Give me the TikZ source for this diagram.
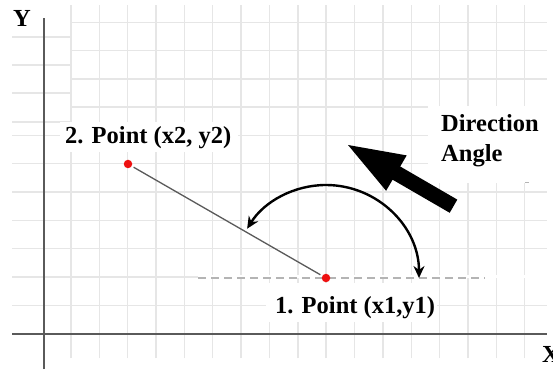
\documentclass[tikz,border=0pt]{standalone}
\usepackage{fontspec}
\setmainfont{Liberation Serif}
\usetikzlibrary{arrows.meta}
\definecolor{gridgray}{HTML}{E6E6E6}
\definecolor{axisgray}{HTML}{5A5A5A}
\definecolor{dashgray}{HTML}{B4B4B4}
\definecolor{ptred}{HTML}{EE1111}
\begin{document}
\begin{tikzpicture}[x=1pt,y=1pt,
  gridline/.style={draw=gridgray, line width=1.4pt},
  axisline/.style={draw=axisgray, line width=2pt},
  lbl/.style={font=\fontsize{24.5}{29}\selectfont\bfseries, inner sep=0pt, anchor=base west, text=black},
  dot/.style={circle, fill=ptred, inner sep=0pt, minimum size=8.5pt},
  seg/.style={draw=axisgray, line width=1.3pt, shorten <=2pt, shorten >=2pt},
  curv/.style={draw=black, line width=2.4pt, {Stealth[length=12pt,width=11pt]}-{Stealth[length=12pt,width=11pt]}},
  dashline/.style={draw=dashgray, line width=1.5pt, dash pattern=on 8pt off 5pt}]
\useasboundingbox (0,0) rectangle (553,369);
\fill[white] (0,0) rectangle (553,369);
% grid
\foreach \k in {0,...,16} \draw[gridline] ({71+28.35*\k},11) -- ({71+28.35*\k},364);
\foreach \j in {0,...,3} \draw[gridline] (71,{346.7-28.3*\j}) -- (547,{346.7-28.3*\j});
\foreach \j in {4,...,10} \draw[gridline] (12,{346.7-28.3*\j}) -- (547,{346.7-28.3*\j});
\foreach \yy in {332,304,276,247} \draw[gridline] (12,\yy) -- (71,\yy);
% white patches
\fill[white] (428,186) rectangle (553,263);
\fill[white] (266,47) rectangle (437,86);
\fill[white] (60,217) rectangle (238,247);
\draw[white, line width=3pt] (198,92) -- (553,92);
\draw[dashgray, line width=1pt] (525,186) -- (529,186);
% axes
\draw[axisline] (44,0) -- (44,351);
\draw[axisline] (12,35.4) -- (547,35.4);
% dashed reference line
\draw[dashline] (198,91) -- (485,91);
% points and segment
\node[dot] (p1) at (326,91) {};
\node[dot] (p2) at (128,205) {};
\draw[seg] (p2) -- (p1);
% curved angle arrow
\draw[curv] ([shift={(93,0)}]p1.center) arc[start angle=0, end angle=148, radius=93];
% big direction arrow
\fill[black] (348,224) -- (406.7,213.6) -- (400.2,202.5) -- (457.3,169.4) -- (449.7,156.2) -- (392.6,189.3) -- (386.1,178.2) -- cycle;
% labels
\node[lbl] (lab2) at (65,225) {2. Point (x2, y2)};
\node[lbl] (lab1) at (275,56) {1. Point (x1,y1)};
\node[lbl] (dir) at (441,237) {Direction};
\node[lbl] (ang) at (441,207) {Angle};
\node[lbl] (ylab) at (13,342) {Y};
\node[lbl] (xlab) at (542,7) {X};
\end{tikzpicture}
\end{document}
